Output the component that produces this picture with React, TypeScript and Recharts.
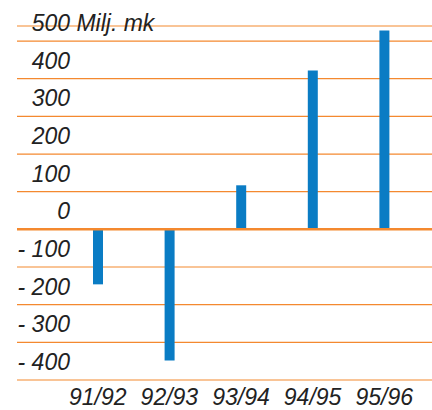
import React from 'react';
import { BarChart, Bar, XAxis, YAxis, CartesianGrid, ReferenceLine } from 'recharts';

const seasons = ['91/92', '92/93', '93/94', '94/95', '95/96'];
const result = [-146, -348, 117, 422, 528];
const yTicks = [-400, -300, -200, -100, 0, 100, 200, 300, 400, 500];

const data = seasons.map((s, i) => ({ season: s, value: result[i] }));

const FONT = '"Liberation Sans", Arial, sans-serif';
const ORANGE = '#f4892f';
const BLUE = '#0a7cc4';

const fmt = (v: number) => (v < 0 ? `- ${Math.abs(v)}` : `${v}`);

const YTick = (props: any) => {
  const { y, payload } = props;
  const v = payload.value as number;
  return (
    <g>
      <text x={70} y={y - 10} textAnchor="end" fontFamily={FONT} fontStyle="italic" fontSize={23} fill="#222">
        {fmt(v)}
      </text>
      {v === 500 && (
        <text x={70} y={y - 10} textAnchor="start" fontFamily={FONT} fontStyle="italic" fontSize={23} fill="#222">
          {'\u00a0Milj. mk'}
        </text>
      )}
    </g>
  );
};

const XTick = (props: any) => {
  const { x, y, payload } = props;
  return (
    <text x={x} y={y + 17} textAnchor="middle" fontFamily={FONT} fontStyle="italic" fontSize={23} fill="#222">
      {payload.value}
    </text>
  );
};

export default function App() {
  return (
    <div style={{ position: 'absolute', left: 0, top: 0, background: '#fff' }}>
      <BarChart width={432} height={410} data={data} margin={{ top: 26, right: 0, bottom: 0, left: 0 }}>
        <CartesianGrid vertical={false} stroke={ORANGE} strokeWidth={1.2} />
        <XAxis
          dataKey="season"
          axisLine={false}
          tickLine={false}
          padding={{ left: 45, right: 12 }}
          tick={<XTick />}
          height={30}
          interval={0}
        />
        <YAxis
          domain={[-400, 540]}
          ticks={yTicks}
          width={17}
          axisLine={false}
          tickLine={false}
          tick={<YTick />}
          interval={0}
        />
        <ReferenceLine y={0} stroke={ORANGE} strokeWidth={2.5} />
        <Bar dataKey="value" fill={BLUE} barSize={10} isAnimationActive={false} />
      </BarChart>
    </div>
  );
}
